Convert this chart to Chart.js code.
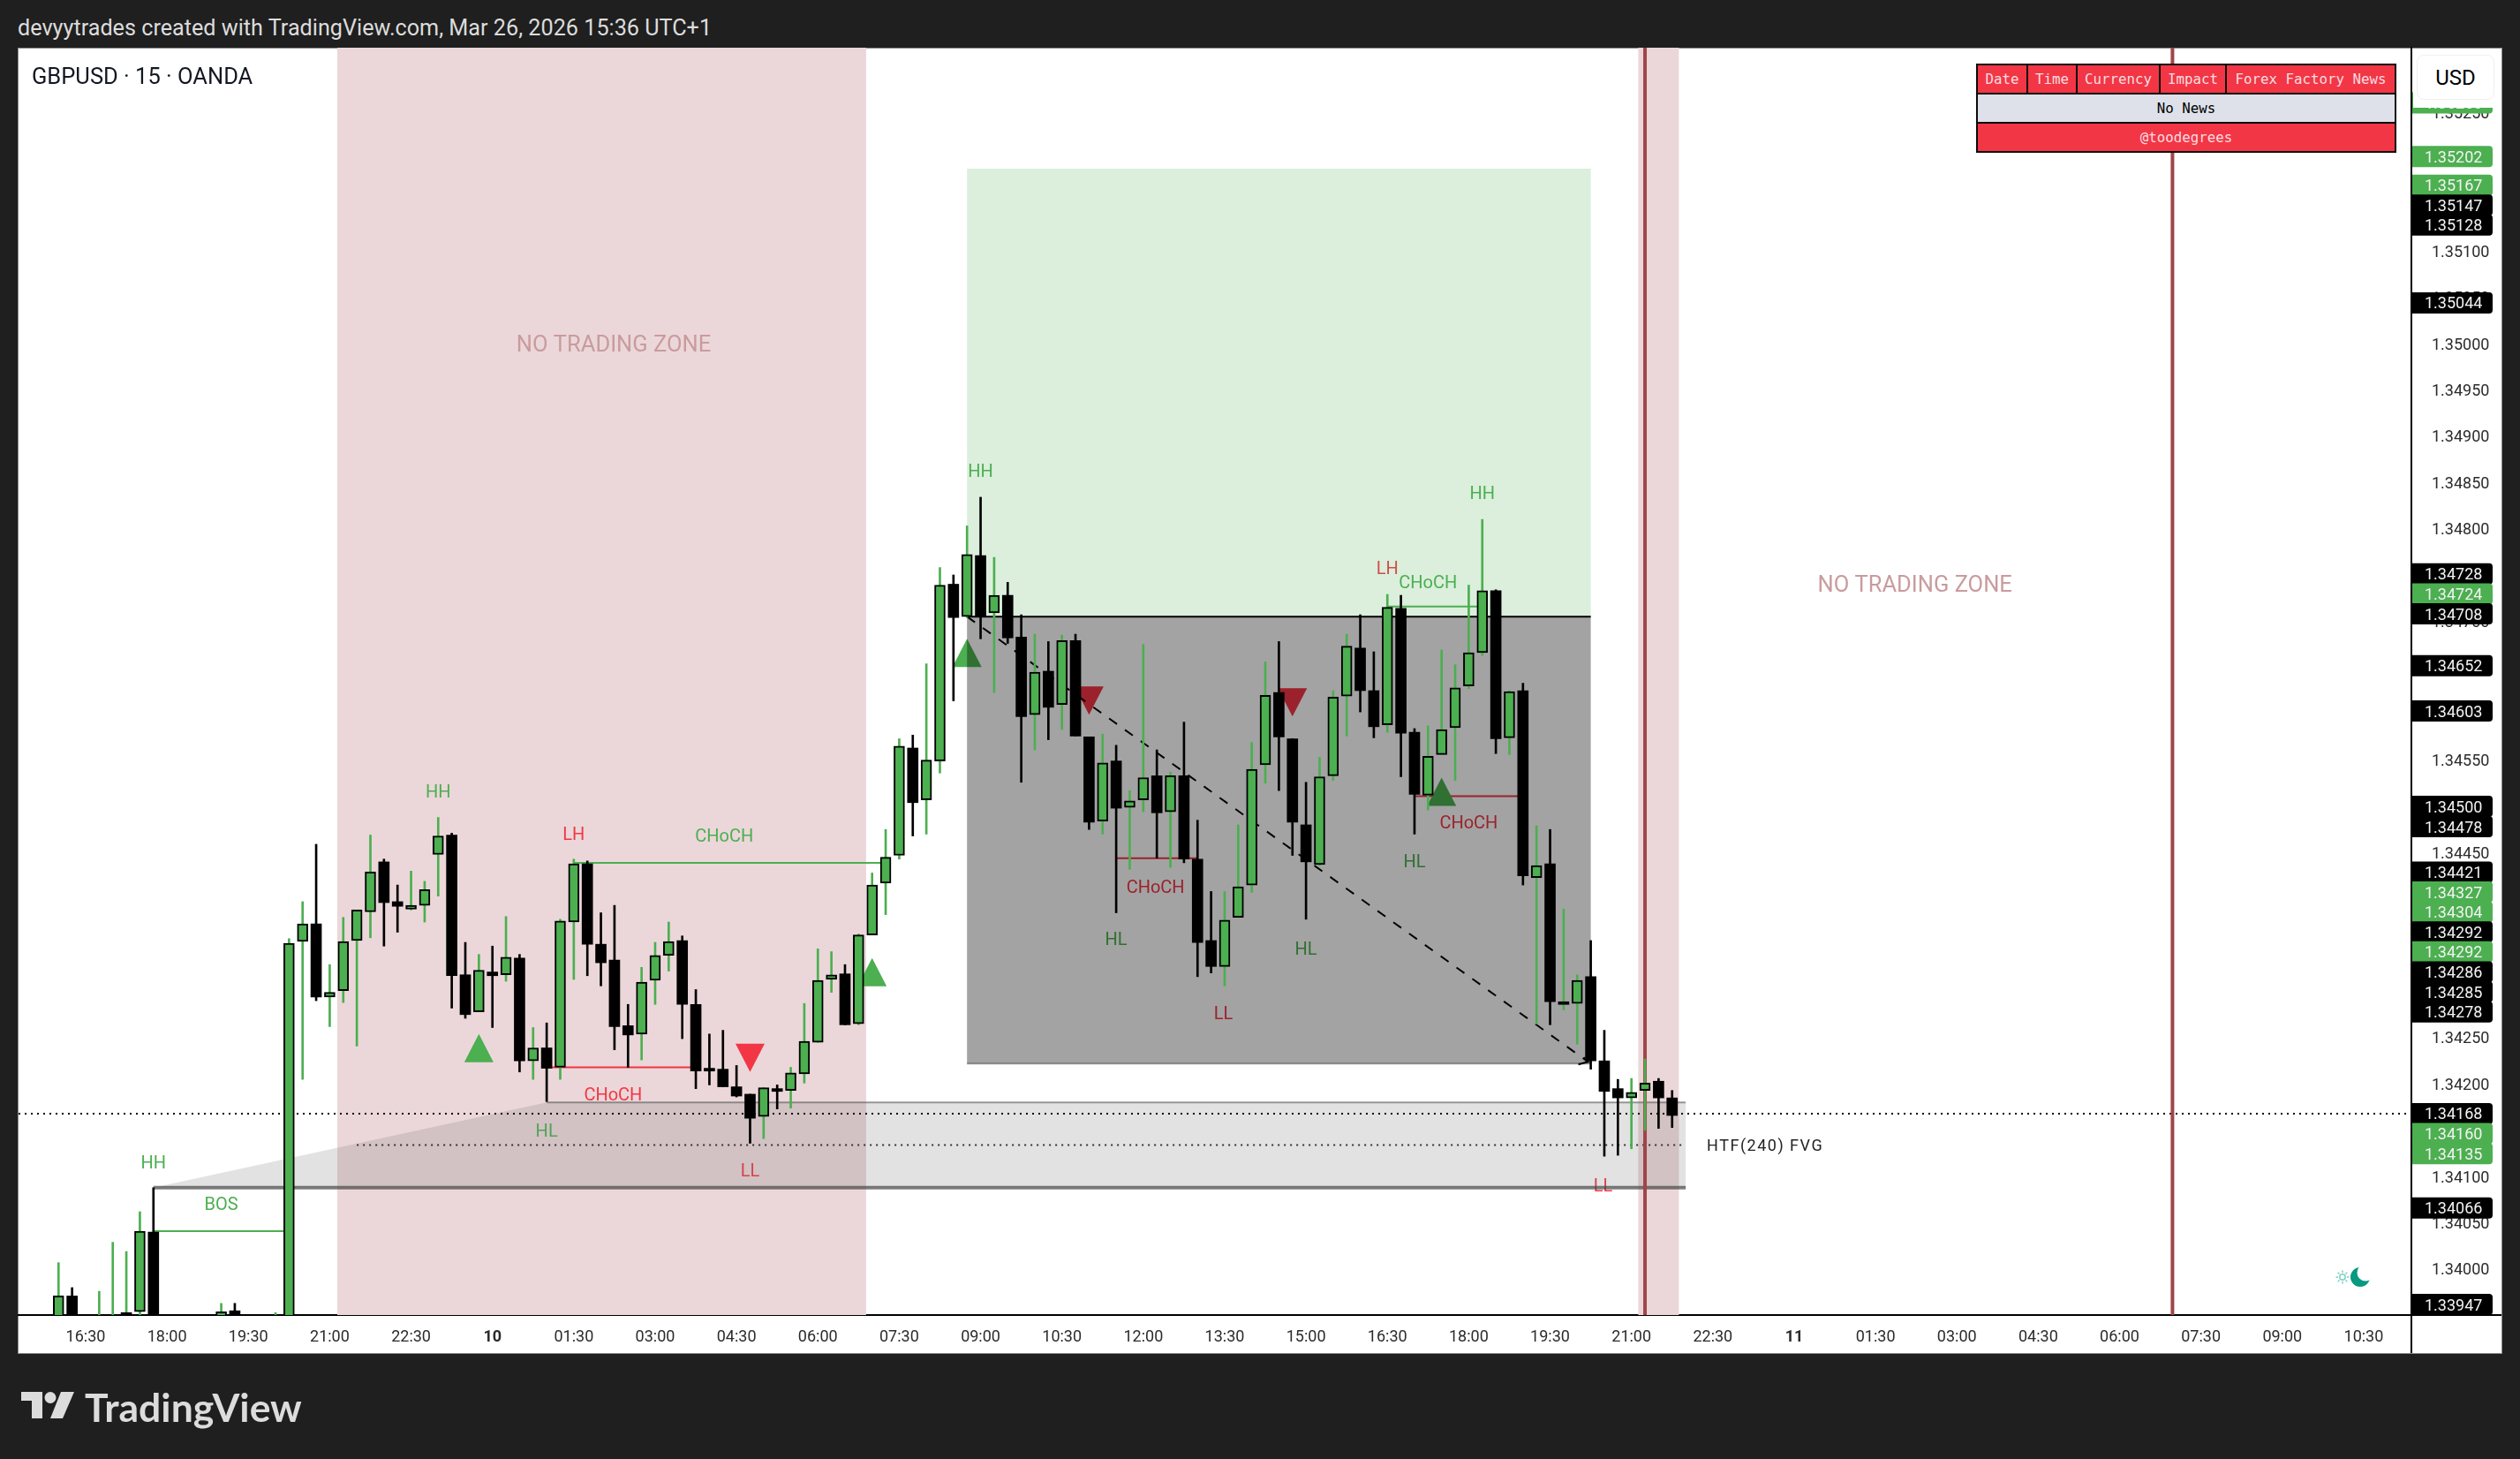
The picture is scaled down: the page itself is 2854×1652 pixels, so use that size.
<!DOCTYPE html>
<html>
<head>
<meta charset="utf-8">
<title>GBPUSD 15 OANDA</title>
<script src="https://cdn.jsdelivr.net/npm/chart.js@4/dist/chart.umd.js"></script>
<style>
  html, body { margin: 0; padding: 0; width: 2854px; height: 1652px; background: #1f1f1f; overflow: hidden; }
  body { position: relative; font-family: Roboto, sans-serif; }
  #header { position: absolute; left: 20px; top: 16px; color: #dcdcdc; font-size: 25.2px; line-height: 32px; white-space: nowrap; }
  #panel { position: absolute; left: 20px; top: 54px; width: 2812px; height: 1477px; background: #fff; border: 1px solid #8a8a8a; }
  #wrap { position: absolute; left: 0; top: 0; width: 2854px; height: 1652px; }
  #symbol { position: absolute; left: 36px; top: 70px; color: #131722; font-size: 25.5px; line-height: 32px; white-space: nowrap; }
  #scaletop { position: absolute; left: 2733px; top: 55px; width: 99px; height: 67px; background: #fff; }
  #currency { position: absolute; left: 2737px; top: 62px; width: 86px; height: 49px; line-height: 50px; text-align: center; background: #fff;
    border: 1px solid #f0f0f0; border-radius: 8px; font-size: 24px; color: #000; }
  #news { position: absolute; left: 2238px; top: 72px; width: 474px; height: 101px; border-collapse: collapse; table-layout: fixed;
    font-family: "DejaVu Sans Mono", monospace; font-size: 15.8px; text-align: center; }
  #news td { border: 2px solid #0b0b0b; padding: 0; height: 31px; }
  #news .head td, #news .foot td { background: #f23645; color: #fbdde0; }
  #news .body td { background: #dee1e9; color: #000; }
  #logo { position: absolute; left: 24px; top: 1576px; }
  #logotext { position: absolute; left: 96px; top: 1566px; color: #dcdcdc; font-family: Lato, sans-serif; font-weight: 700; font-size: 44.5px; line-height: 54px; white-space: nowrap; }
</style>
</head>
<body>
<div id="header">devyytrades created with TradingView.com, Mar 26, 2026 15:36 UTC+1</div>
<div id="panel"></div>
<div id="wrap"><canvas id="chart"></canvas></div>
<div id="symbol">GBPUSD · 15 · OANDA</div>
<div id="scaletop"></div>
<div id="currency">USD</div>
<table id="news"></table>
<svg id="logo" width="62" height="30" viewBox="0 0 62 30">
  <path d="M0 0H24V30H12V10H0Z" fill="#dcdcdc"/>
  <circle cx="33" cy="6.5" r="6.5" fill="#dcdcdc"/>
  <path d="M45 0H60L47 30H33Z" fill="#dcdcdc"/>
</svg>
<div id="logotext">TradingView</div>

<script>
// bar number of the first candle, 15 minutes per bar, bar 0 is the first 16:30
const firstBar = -2;

const opens = [
  1.33930, 1.33971, null, 1.33920, 1.33930, 1.33953, 1.33954, 1.34040, null, null, null, null,
  1.33940, 1.33955, null, null, 1.33930, 1.33940, 1.34354, 1.34373, 1.34294, 1.34301, 1.34355, 1.34386,
  1.34440, 1.34397, 1.34389, 1.34393, 1.34448, 1.34469, 1.34318, 1.34278, 1.34321, 1.34318, 1.34336, 1.34225,
  1.34239, 1.34218, 1.34375, 1.34438, 1.34351, 1.34334, 1.34263, 1.34254, 1.34312, 1.34339, 1.34355, 1.34286,
  1.34217, 1.34216, 1.34197, 1.34189, 1.34165, 1.34195, 1.34193, 1.34211, 1.34245, 1.34313, 1.34319, 1.34265,
  1.34361, 1.34417, 1.34447, 1.34563, 1.34507, 1.34549, 1.34740, 1.34705, 1.34771, 1.34709, 1.34728, 1.34683,
  1.34599, 1.34646, 1.34610, 1.34679, 1.34575, 1.34484, 1.34549, 1.34499, 1.34507, 1.34533, 1.34494, 1.34533,
  1.34443, 1.34355, 1.34327, 1.34380, 1.34415, 1.34545, 1.34623, 1.34573, 1.34480, 1.34437, 1.34533, 1.34619,
  1.34671, 1.34625, 1.34588, 1.34714, 1.34580, 1.34512, 1.34556, 1.34585, 1.34630, 1.34666, 1.34733, 1.34574,
  1.34625, 1.34423, 1.34438, 1.34287, 1.34287, 1.34316, 1.34225, 1.34195, 1.34185, 1.34193, 1.34203, 1.34185
];
const highs = [
  1.34007, 1.33980, null, 1.33976, 1.34029, 1.34019, 1.34062, 1.34088, null, null, null, null,
  1.33963, 1.33963, null, null, 1.33953, 1.34357, 1.34397, 1.34459, 1.34329, 1.34380, 1.34388, 1.34469,
  1.34443, 1.34415, 1.34430, 1.34419, 1.34488, 1.34471, 1.34353, 1.34340, 1.34349, 1.34381, 1.34340, 1.34261,
  1.34266, 1.34378, 1.34443, 1.34441, 1.34385, 1.34393, 1.34286, 1.34326, 1.34353, 1.34375, 1.34360, 1.34302,
  1.34254, 1.34258, 1.34220, 1.34189, 1.34196, 1.34199, 1.34218, 1.34287, 1.34346, 1.34343, 1.34329, 1.34362,
  1.34428, 1.34475, 1.34573, 1.34577, 1.34654, 1.34758, 1.34750, 1.34803, 1.34834, 1.34769, 1.34742, 1.34707,
  1.34686, 1.34678, 1.34685, 1.34686, 1.34575, 1.34578, 1.34566, 1.34517, 1.34675, 1.34561, 1.34537, 1.34591,
  1.34485, 1.34408, 1.34408, 1.34480, 1.34569, 1.34656, 1.34678, 1.34573, 1.34526, 1.34553, 1.34625, 1.34686,
  1.34707, 1.34667, 1.34729, 1.34728, 1.34584, 1.34587, 1.34669, 1.34653, 1.34739, 1.34810, 1.34734, 1.34625,
  1.34633, 1.34479, 1.34475, 1.34389, 1.34318, 1.34355, 1.34258, 1.34205, 1.34206, 1.34227, 1.34206, 1.34193
];
const lows = [
  1.33915, 1.33925, null, 1.33910, 1.33915, 1.33925, 1.33930, 1.33900, null, null, null, null,
  1.33935, 1.33935, null, null, 1.33925, 1.33930, 1.34205, 1.34290, 1.34262, 1.34288, 1.34241, 1.34358,
  1.34349, 1.34364, 1.34388, 1.34375, 1.34403, 1.34282, 1.34271, 1.34278, 1.34261, 1.34311, 1.34213, 1.34205,
  1.34181, 1.34205, 1.34313, 1.34317, 1.34306, 1.34237, 1.34218, 1.34226, 1.34286, 1.34322, 1.34249, 1.34195,
  1.34199, 1.34197, 1.34186, 1.34136, 1.34141, 1.34173, 1.34174, 1.34201, 1.34245, 1.34299, 1.34264, 1.34264,
  1.34361, 1.34383, 1.34443, 1.34468, 1.34470, 1.34536, 1.34614, 1.34704, 1.34681, 1.34623, 1.34676, 1.34526,
  1.34561, 1.34572, 1.34583, 1.34576, 1.34475, 1.34470, 1.34385, 1.34432, 1.34494, 1.34444, 1.34434, 1.34439,
  1.34316, 1.34320, 1.34306, 1.34380, 1.34407, 1.34525, 1.34517, 1.34447, 1.34378, 1.34436, 1.34528, 1.34576,
  1.34602, 1.34574, 1.34580, 1.34532, 1.34470, 1.34496, 1.34556, 1.34528, 1.34627, 1.34663, 1.34557, 1.34556,
  1.34415, 1.34265, 1.34264, 1.34280, 1.34243, 1.34216, 1.34122, 1.34123, 1.34130, 1.34150, 1.34152, 1.34153
];
const closes = [
  1.33971, 1.33935, null, 1.33935, 1.33940, 1.33935, 1.34041, 1.33915, null, null, null, null,
  1.33954, 1.33940, null, null, 1.33945, 1.34352, 1.34373, 1.34294, 1.34299, 1.34354, 1.34388, 1.34429,
  1.34396, 1.34392, 1.34393, 1.34410, 1.34468, 1.34317, 1.34275, 1.34323, 1.34317, 1.34337, 1.34225, 1.34239,
  1.34217, 1.34376, 1.34438, 1.34351, 1.34331, 1.34262, 1.34253, 1.34310, 1.34339, 1.34354, 1.34286, 1.34214,
  1.34214, 1.34197, 1.34187, 1.34163, 1.34196, 1.34192, 1.34212, 1.34246, 1.34312, 1.34318, 1.34264, 1.34361,
  1.34415, 1.34445, 1.34565, 1.34504, 1.34550, 1.34739, 1.34704, 1.34772, 1.34705, 1.34728, 1.34682, 1.34597,
  1.34645, 1.34607, 1.34679, 1.34576, 1.34483, 1.34547, 1.34498, 1.34506, 1.34531, 1.34493, 1.34533, 1.34443,
  1.34353, 1.34327, 1.34377, 1.34413, 1.34540, 1.34620, 1.34575, 1.34483, 1.34440, 1.34532, 1.34618, 1.34673,
  1.34625, 1.34586, 1.34715, 1.34579, 1.34513, 1.34554, 1.34583, 1.34628, 1.34666, 1.34733, 1.34573, 1.34624,
  1.34425, 1.34436, 1.34289, 1.34286, 1.34312, 1.34225, 1.34192, 1.34185, 1.34191, 1.34201, 1.34185, 1.34166
];
// black bodies that still have a green wick
const greenWickBars = [3, 109];

const timeLabels = ["16:30", "18:00", "19:30", "21:00", "22:30", "10", "01:30", "03:00", "04:30", "06:00",
  "07:30", "09:00", "10:30", "12:00", "13:30", "15:00", "16:30", "18:00", "19:30", "21:00",
  "22:30", "11", "01:30", "03:00", "04:30", "06:00", "07:30", "09:00", "10:30"];

// labels on the price scale, top to bottom
const tagPrices = [1.35260, 1.35202, 1.35167, 1.35147, 1.35128, 1.35044, 1.34728, 1.34724, 1.34708, 1.34652,
  1.34603, 1.34500, 1.34478, 1.34421, 1.34327, 1.34304, 1.34292, 1.34292, 1.34286, 1.34285,
  1.34278, 1.34168, 1.34160, 1.34135, 1.34066, 1.33947];
const tagKinds = ["up", "up", "up", "down", "down", "down", "down", "up", "down", "down",
  "down", "down", "down", "down", "up", "up", "down", "up", "down", "down",
  "down", "down", "up", "up", "down", "down"];

const noTradeZones = [[18.56, 57.56], [114.5, 117.5]];
const noTradeLabels = [[38.94, 1.35000], [134.9, 1.34740]];
const redLines = [115, 153.9];

const swingTexts = ["HH", "LH", "CHoCH", "CHoCH", "HL", "LL", "HH", "BOS", "HH", "HH", "LH", "CHoCH", "CHoCH", "HL", "CHoCH", "HL", "HL", "LL", "LL"];
const swingBars = [26, 36, 47.1, 38.9, 34, 49, 5, 10, 66, 103, 96, 99, 102, 98, 78.9, 76, 90, 83.9, 111.9];
const swingPrices = [1.34517, 1.34471, 1.34469, 1.34189, 1.34150, 1.34107, 1.34116, 1.34071, 1.34863, 1.34839,
  1.34758, 1.34743, 1.34483, 1.34441, 1.34414, 1.34357, 1.34347, 1.34277, 1.34091];
const swingKinds = ["up", "down", "up", "down", "up", "down", "up", "up", "up", "up",
  "down", "up", "down", "up", "down", "up", "up", "down", "down"];

// structure lines: bar from, bar to, price, kind
const structureLines = [[5, 15, 1.34041, "up"], [36, 59, 1.34439, "up"], [34, 45, 1.34218, "down"],
  [76, 82, 1.34444, "down"], [98, 106, 1.34511, "down"], [96, 103, 1.34716, "up"]];

const triangleBars = [29, 58, 65, 100, 49, 74, 89];
const trianglePrices = [1.34254, 1.34336, 1.34681, 1.34531, 1.34213, 1.34599, 1.34597];
const triangleKinds = ["up", "up", "up", "up", "down", "down", "down"];

const boxBars = [65, 111];
const boxPrices = [1.35189, 1.34705, 1.34222];
const projectionBars = [65, 110.8];
const projectionPrices = [1.34705, 1.34224];

const fvgBars = [5, 34, 118];
const fvgPrices = [1.34180, 1.34088];
const fvgMid = [20, 118, 1.34134];
const lastPrice = 1.34168;

const newsHeaders = ["Date", "Time", "Currency", "Impact", "Forex Factory News"];
const newsWidths = [57, 56, 94, 75, 192];

const GREEN = "#4caf50";
const RED = "#f23645";
const BLACK = "#000";
// canvas "middle" sits a little high compared to the reference text
const TEXT_NUDGE = 2.5;

// news table in the corner
const rows = [
  '<tr class="head">' + newsHeaders.map((h) => "<td>" + h + "</td>").join("") + "</tr>",
  '<tr class="body"><td colspan="5">No News</td></tr>',
  '<tr class="foot"><td colspan="5">@toodegrees</td></tr>',
];
const colgroup = "<colgroup>" + newsWidths.map((w) => '<col style="width:' + w + 'px">').join("") + "</colgroup>";
document.getElementById("news").innerHTML = colgroup + rows.join("");

// build the candle parts from the OHLC lists
const wickUp = [];
const wickDown = [];
const bodyUp = [];
const bodyDown = [];
opens.forEach((open, k) => {
  if (open === null) return;
  const bar = firstBar + k;
  const up = closes[k] >= open;
  const wick = { x: bar, y: [lows[k], highs[k]] };
  if (up || greenWickBars.includes(bar)) wickUp.push(wick);
  else wickDown.push(wick);
  (up ? bodyUp : bodyDown).push({ x: bar, y: [Math.min(open, closes[k]), Math.max(open, closes[k])] });
});

const hLine = (ctx, x1, x2, y, color, width, dash) => {
  ctx.save();
  ctx.strokeStyle = color;
  ctx.lineWidth = width;
  ctx.setLineDash(dash || []);
  ctx.beginPath();
  ctx.moveTo(x1, y);
  ctx.lineTo(x2, y);
  ctx.stroke();
  ctx.restore();
};

// everything that sits under the candles
const underlayPlugin = {
  id: "underlay",
  beforeDraw(chart) {
    // the price labels need the same small push down
    const items = chart.scales.y.getLabelItems(chart.chartArea);
    if (!items.nudged) {
      items.forEach((item) => {
        item.options.translation[1] += TEXT_NUDGE - 0.5;
      });
      items.nudged = true;
    }
  },
  beforeDatasetsDraw(chart) {
    const { ctx, chartArea: area, scales } = chart;
    const X = (v) => scales.x.getPixelForValue(v);
    const Y = (v) => scales.y.getPixelForValue(v);
    ctx.save();
    ctx.beginPath();
    ctx.rect(area.left, area.top, area.right - area.left, area.bottom - area.top);
    ctx.clip();

    ctx.fillStyle = "#ebd7d9";
    noTradeZones.forEach((z) => ctx.fillRect(X(z[0]), area.top, X(z[1]) - X(z[0]), area.bottom - area.top));

    ctx.font = "25.5px Roboto";
    ctx.textAlign = "center";
    ctx.textBaseline = "middle";
    ctx.fillStyle = "#c99b9d";
    noTradeLabels.forEach((l) => ctx.fillText("NO TRADING ZONE", X(l[0]), Y(l[1]) + TEXT_NUDGE));

    ctx.font = "20px Roboto";
    swingTexts.forEach((t, k) => {
      ctx.fillStyle = swingKinds[k] === "up" ? GREEN : RED;
      ctx.fillText(t, X(swingBars[k]), Y(swingPrices[k]) + TEXT_NUDGE);
    });

    structureLines.forEach((l) => hLine(ctx, X(l[0]), X(l[1]), Y(l[2]), l[3] === "up" ? GREEN : RED, 2));

    triangleBars.forEach((bar, k) => {
      const x = X(bar);
      const y = Y(trianglePrices[k]);
      const dir = triangleKinds[k] === "up" ? 1 : -1;
      ctx.fillStyle = dir > 0 ? GREEN : RED;
      ctx.beginPath();
      ctx.moveTo(x, y);
      ctx.lineTo(x - 16.5, y + dir * 32);
      ctx.lineTo(x + 16.5, y + dir * 32);
      ctx.closePath();
      ctx.fill();
    });

    // target and stop boxes
    const bx1 = X(boxBars[0]);
    const bx2 = X(boxBars[1]);
    ctx.fillStyle = "rgba(76,175,80,0.2)";
    ctx.fillRect(bx1, Y(boxPrices[0]), bx2 - bx1, Y(boxPrices[1]) - Y(boxPrices[0]));
    ctx.fillStyle = "rgba(0,0,0,0.36)";
    ctx.fillRect(bx1, Y(boxPrices[1]), bx2 - bx1, Y(boxPrices[2]) - Y(boxPrices[1]));
    hLine(ctx, bx1, bx2, Y(boxPrices[1]), BLACK, 2);
    hLine(ctx, bx1, bx2, Y(boxPrices[2]), "rgba(90,90,90,0.6)", 2);

    // fair value gap
    ctx.fillStyle = "rgba(110,110,110,0.2)";
    ctx.beginPath();
    ctx.moveTo(X(fvgBars[0]), Y(fvgPrices[1]));
    ctx.lineTo(X(fvgBars[1]), Y(fvgPrices[0]));
    ctx.lineTo(X(fvgBars[2]), Y(fvgPrices[0]));
    ctx.lineTo(X(fvgBars[2]), Y(fvgPrices[1]));
    ctx.closePath();
    ctx.fill();
    hLine(ctx, X(fvgBars[1]), X(fvgBars[2]), Y(fvgPrices[0]), "rgba(90,90,90,0.6)", 2);
    hLine(ctx, X(fvgBars[0]), X(fvgBars[2]), Y(fvgPrices[1]), "rgba(70,70,70,0.7)", 4);
    hLine(ctx, X(fvgMid[0]), X(fvgMid[1]), Y(fvgMid[2]), "#333", 2, [2, 5]);
    hLine(ctx, area.left, area.right, Y(lastPrice), BLACK, 2, [2, 5]);

    // dashed projection with a small arrow head
    const px1 = X(projectionBars[0]);
    const py1 = Y(projectionPrices[0]);
    const px2 = X(projectionBars[1]);
    const py2 = Y(projectionPrices[1]);
    ctx.strokeStyle = BLACK;
    ctx.lineWidth = 2;
    ctx.setLineDash([11, 11]);
    ctx.beginPath();
    ctx.moveTo(px1, py1);
    ctx.lineTo(px2, py2);
    ctx.stroke();
    ctx.setLineDash([]);
    ctx.beginPath();
    ctx.moveTo(px2 - 11, py2 + 3);
    ctx.lineTo(px2, py2);
    ctx.lineTo(px2 - 5, py2 - 5);
    ctx.stroke();

    ctx.fillStyle = "#a04548";
    redLines.forEach((bar) => ctx.fillRect(X(bar) - 2, area.top, 4, area.bottom - area.top));
    ctx.restore();
  },
};

// axis extensions, price tags and the bits in front of the candles
const overlayPlugin = {
  id: "overlay",
  afterDraw(chart) {
    const { ctx, chartArea: area, scales } = chart;
    const Y = (v) => scales.y.getPixelForValue(v);
    const axisRight = 2833;
    const axisBottom = 1532;

    hLine(ctx, area.right, axisRight, area.bottom, BLACK, 2);
    ctx.fillStyle = BLACK;
    ctx.fillRect(area.right - 1, area.bottom, 2, axisBottom - area.bottom);

    // stack the tags so they do not overlap: the FVG pair drops down, the rest climb
    const tagH = 22.6;
    const ys = tagPrices.map((p) => Math.min(Y(p), area.bottom - 12));
    const dropping = [1.34160, 1.34135];
    for (let k = 1; k < ys.length; k++) {
      if (dropping.includes(tagPrices[k]) && ys[k] - ys[k - 1] < tagH) ys[k] = ys[k - 1] + tagH;
    }
    for (let k = ys.length - 2; k >= 0; k--) {
      if (ys[k + 1] - ys[k] < tagH) ys[k] = ys[k + 1] - tagH;
    }
    ctx.save();
    ctx.beginPath();
    ctx.rect(area.right + 1, area.top, axisRight - area.right, area.bottom - area.top - 1);
    ctx.clip();
    ctx.font = "18px Roboto";
    ctx.textAlign = "left";
    ctx.textBaseline = "middle";
    tagPrices.forEach((p, k) => {
      ctx.fillStyle = tagKinds[k] === "up" ? GREEN : BLACK;
      ctx.beginPath();
      ctx.roundRect(area.right + 1, ys[k] - 12, 91, 24, [0, 4, 4, 0]);
      ctx.fill();
      ctx.fillStyle = "#f2f2f2";
      ctx.fillText(p.toFixed(5), area.right + 15, ys[k] + TEXT_NUDGE - 0.5);
    });
    ctx.restore();

    // FVG caption
    ctx.save();
    ctx.font = "18px Roboto";
    ctx.letterSpacing = "1.5px";
    ctx.textAlign = "left";
    ctx.textBaseline = "middle";
    ctx.fillStyle = "#222";
    ctx.fillText("HTF(240) FVG", scales.x.getPixelForValue(fvgBars[2]) + 24, Y(fvgMid[2]) + TEXT_NUDGE - 0.5);
    ctx.restore();

    // day/night toggle
    const mx = 2673;
    const my = 1446;
    ctx.save();
    ctx.fillStyle = "#089981";
    ctx.beginPath();
    ctx.arc(mx, my, 11, 0, Math.PI * 2);
    ctx.fill();
    ctx.fillStyle = "#fff";
    ctx.beginPath();
    ctx.arc(mx + 6, my - 5, 9.5, 0, Math.PI * 2);
    ctx.fill();
    ctx.strokeStyle = "#7fd0c2";
    ctx.lineWidth = 1.5;
    ctx.beginPath();
    ctx.arc(mx - 20, my, 3.2, 0, Math.PI * 2);
    for (let a = 0; a < 8; a++) {
      const t = (a * Math.PI) / 4;
      ctx.moveTo(mx - 20 + Math.cos(t) * 5, my + Math.sin(t) * 5);
      ctx.lineTo(mx - 20 + Math.cos(t) * 7.5, my + Math.sin(t) * 7.5);
    }
    ctx.stroke();
    ctx.restore();
  },
};

const data = {
  datasets: [
    { data: wickUp, backgroundColor: GREEN, barThickness: 2, stack: "candles", order: 4 },
    { data: wickDown, backgroundColor: BLACK, barThickness: 2, stack: "candles", order: 3 },
    { data: bodyUp, backgroundColor: GREEN, borderColor: BLACK, borderWidth: 2, borderSkipped: false, barThickness: 12, minBarLength: 3, stack: "candles", order: 2 },
    { data: bodyDown, backgroundColor: BLACK, borderColor: BLACK, borderWidth: 0, barThickness: 12, minBarLength: 3, stack: "candles", order: 1 },
  ],
};

const options = {
  responsive: true,
  maintainAspectRatio: false,
  animation: false,
  layout: { padding: { left: 21, top: 54, right: 21, bottom: 120 } },
  plugins: { legend: { display: false }, tooltip: { enabled: false }, title: { display: false } },
  scales: {
    x: {
      type: "linear",
      min: -4.949,
      max: 171.52,
      offset: false,
      grid: { display: false },
      border: { display: true, color: BLACK, width: 2 },
      afterBuildTicks: (scale) => {
        scale.ticks = timeLabels.map((_, k) => ({ value: k * 6 }));
      },
      afterFit: (scale) => {
        scale.height = 43;
      },
      ticks: {
        autoSkip: false,
        maxRotation: 0,
        minRotation: 0,
        padding: 7,
        color: "#2b2b2b",
        font: (c) => ({
          family: "Roboto",
          size: 18,
          weight: c.tick && /^\d+$/.test(String(timeLabels[c.tick.value / 6])) ? "bold" : "normal",
        }),
        callback: (v) => timeLabels[v / 6],
      },
    },
    y: {
      position: "right",
      stacked: false,
      min: 1.3395038,
      max: 1.3531966,
      grid: { display: false },
      border: { display: true, color: BLACK, width: 2 },
      afterFit: (scale) => {
        scale.width = 102;
      },
      ticks: {
        stepSize: 0.0005,
        includeBounds: false,
        autoSkip: false,
        padding: 15,
        color: "#2b2b2b",
        font: { family: "Roboto", size: 18 },
        callback: (v) => v.toFixed(5),
      },
    },
  },
};

const config = {
  type: "bar",
  data: data,
  options: options,
  plugins: [underlayPlugin, overlayPlugin],
};

new Chart(document.getElementById("chart"), config);
</script>
</body>
</html>
